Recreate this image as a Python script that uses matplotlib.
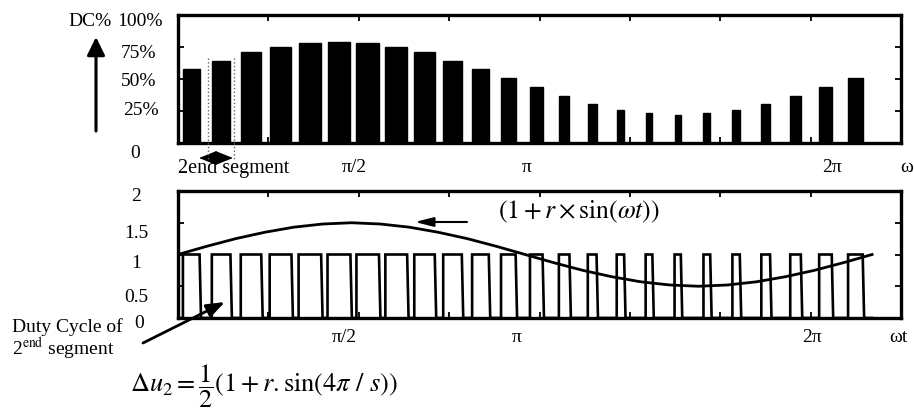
import matplotlib
matplotlib.use('Agg')
import matplotlib.pyplot as plt
import numpy as np

plt.rcParams['font.family'] = ['Liberation Serif', 'DejaVu Serif']
plt.rcParams['mathtext.fontset'] = 'stix'

# ---------------- data ----------------
segments = list(range(24))                      # segment index
duty_pct = [57.6, 64.3, 70.8, 75.3, 77.9, 79.2, 77.9, 75.3, 70.8, 64.3, 57.6, 50.5,
            43.5, 36.5, 30.2, 25.5, 23.2, 21.6, 23.2, 25.5, 30.2, 36.5, 43.5, 50.5]
ref_x = list(range(25))                         # segment boundaries
ref_y = [1.0, 1.13, 1.25, 1.35, 1.43, 1.48, 1.5, 1.48, 1.43, 1.35, 1.25, 1.13, 1.0,
         0.87, 0.75, 0.65, 0.57, 0.52, 0.5, 0.52, 0.57, 0.65, 0.75, 0.87, 1.0]
top_ylabels = ['100%', '75%', '50%', '25%', '0']
bot_ylabels = ['2', '1.5', '1', '0.5', '0']

W, H = 914, 408
fig = plt.figure(figsize=(W / 100, H / 100), dpi=100)


def fx(x):
    return x / W


def fy(y):
    return 1 - y / H


def F(x, y):
    return (fx(x), fy(y))


ax1 = fig.add_axes([fx(178), fy(143), 723 / W, 128 / H])
ax2 = fig.add_axes([fx(178), fy(318), 723 / W, 127 / H])

seg_offset = 0.17
n_seg_axis = 25

# ---------------- top: duty cycle bars ----------------
duty = np.array(duty_pct)
ax1.bar(np.array(segments) + seg_offset, duty, width=duty / 100, align='edge',
        color='black', edgecolor='black', linewidth=1.0, zorder=3)
ax1.set_xlim(0, n_seg_axis)
ax1.set_ylim(0, 100)
ax1.set_xticks(np.arange(0, n_seg_axis + 0.01, n_seg_axis / 8))
ax1.set_yticks([0, 25, 50, 75, 100])

# ---------------- bottom: pulse train + reference ----------------
px_, py_ = [0], [0]
for k, d in zip(segments, duty):
    xs = k + seg_offset
    xe = xs + d / 100
    px_ += [xs, xs, xe, xe + 0.05]
    py_ += [0, 1, 1, 0]
px_.append(24.0)
py_.append(0)
ax2.plot(px_, py_, color='black', lw=1.9, solid_joinstyle='miter', zorder=3)
ax2.plot(ref_x, ref_y, color='black', lw=2.0, zorder=4)
ax2.set_xlim(0, n_seg_axis)
ax2.set_ylim(0, 2)
ax2.set_xticks(np.arange(0, n_seg_axis + 0.01, n_seg_axis / 8))
ax2.set_yticks([0, 0.5, 1, 1.5, 2])

for ax in (ax1, ax2):
    ax.tick_params(direction='in', top=True, right=True, length=4, width=1.3,
                   labelbottom=False, labelleft=False)
    for s in ax.spines.values():
        s.set_linewidth(2.4)

fs = 14
# top y labels
for lab, (x, y) in zip(top_ylabels, [(140, 21), (139, 54), (139, 81), (141, 111), (135, 153)]):
    fig.text(fx(x), fy(y), lab, fontsize=fs, ha='center', va='center')
fig.text(fx(90), fy(21), 'DC%', fontsize=fs, ha='center', va='center')
# bottom y labels
for lab, (x, y) in zip(bot_ylabels, [(136, 196), (136, 233), (136, 263), (136, 297), (139, 324)]):
    fig.text(fx(x), fy(y), lab, fontsize=fs, ha='center', va='center')

# top x labels
fig.text(fx(178), fy(173), '2end segment', fontsize=14.5, ha='left', va='baseline')
for lab, x in [('π/2', 354), ('π', 527), ('2π', 832), ('ω', 907)]:
    fig.text(fx(x), fy(172), lab, fontsize=fs, ha='center', va='baseline')
# bottom x labels
for lab, x in [('π/2', 344), ('π', 517), ('2π', 812), ('ωt', 898)]:
    fig.text(fx(x), fy(342), lab, fontsize=fs, ha='center', va='baseline')

# arrows
def arrow(tail, head, style, lw, ms=20):
    fig.add_artist(matplotlib.patches.FancyArrowPatch(
        F(*tail), F(*head), transform=fig.transFigure, arrowstyle=style,
        mutation_scale=ms, lw=lw, color='black', shrinkA=0, shrinkB=0))

arrow((96, 131), (96, 37), '-|>,head_length=0.55,head_width=0.27', 2.2)
arrow((199, 158), (233, 158), '<|-|>,head_length=0.55,head_width=0.22', 1.0)
arrow((467, 222), (415, 222), '-|>,head_length=0.55,head_width=0.14', 1.5)
arrow((143, 343), (225, 302), '-|>,head_length=0.55,head_width=0.2', 2.0)

# dotted guide lines for the 2nd segment
for xp in (208, 234):
    fig.add_artist(matplotlib.lines.Line2D([fx(xp), fx(xp)], [fy(58), fy(160)],
                                           transform=fig.transFigure, color='#666666',
                                           lw=1.0, ls=':', zorder=1))

# annotations
fig.text(fx(498), fy(212), r'$(1+r\times\sin(\omega t))$', fontsize=18.5, ha='left', va='center')
fig.text(fx(12), fy(327), 'Duty Cycle of', fontsize=fs, ha='left', va='center')
fig.text(fx(12), fy(349), r'2$^{\mathrm{end}}$ segment', fontsize=fs, ha='left', va='center')
fig.text(fx(130), fy(386), r'$\Delta u_2 = \dfrac{1}{2}(1 + r.\sin(4\pi\ /\ s))$',
         fontsize=19, ha='left', va='center')

fig.savefig('out.png', dpi=100)
